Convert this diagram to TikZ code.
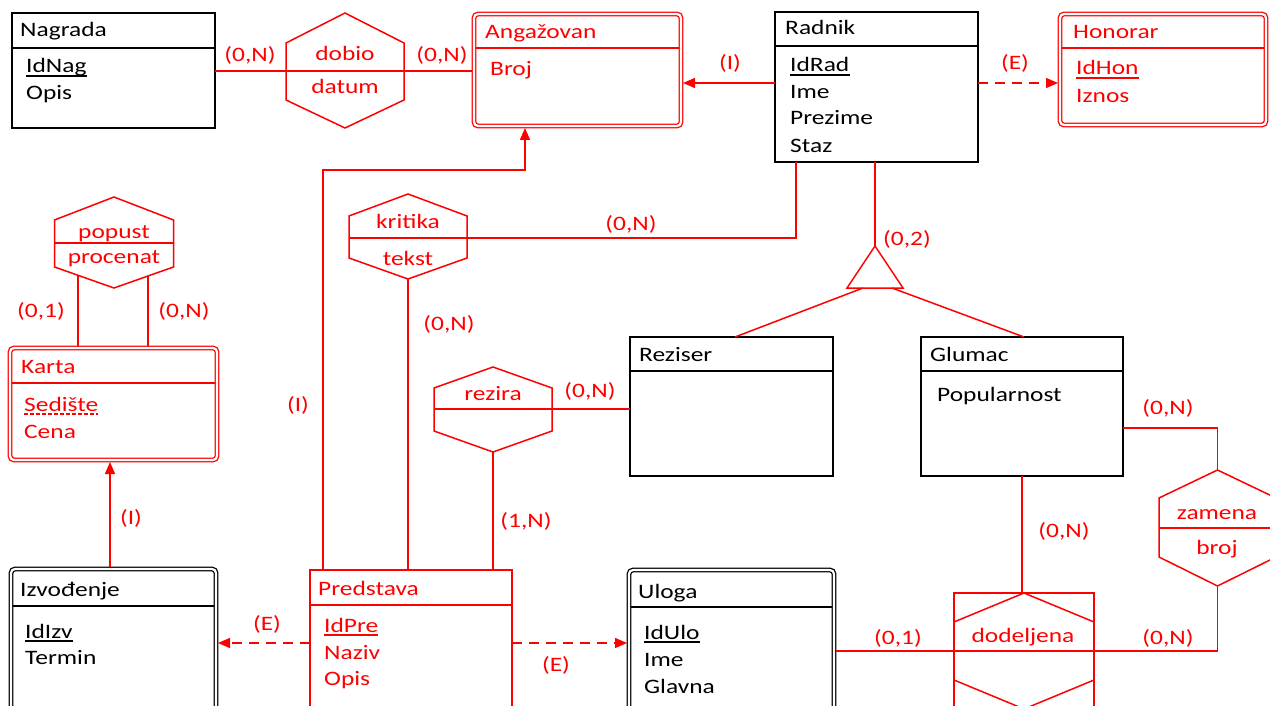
\documentclass[tikz,border=0pt]{standalone}
\usepackage{fontspec}
\setmainfont{Carlito}[FakeStretch=1.24]
\usetikzlibrary{arrows.meta,calc}
\newcommand{\hexag}[6]{\draw[rl] (#1,#2) -- (#1+#6,#3) -- (#1+#6,#4) -- (#1,#5) -- (#1-#6,#4) -- (#1-#6,#3) -- cycle;}
\begin{document}
\begin{tikzpicture}[x=1pt,y=-1pt,
  every node/.style={font=\fontsize{20.5}{24}\selectfont},
  blk/.style={draw=black,line width=1.8pt,inner sep=0,outer sep=0},
  rbox/.style={draw=red,line width=1.5pt,inner sep=0,outer sep=0},
  dblk/.style={draw=black,line width=1.3pt,double=white,double distance=2.2pt,rounded corners=4pt,inner sep=0,outer sep=0},
  drd/.style={draw=red,line width=1.3pt,double=white,double distance=2.2pt,rounded corners=4pt,inner sep=0,outer sep=0},
  rl/.style={draw=red,line width=1.5pt},
  hl/.style={draw=black,line width=1.8pt},
  arr/.style={-{Triangle[length=12pt,width=10pt]}},
  dsh/.style={dash pattern=on 10pt off 7pt},
  txt/.style={inner sep=0,anchor=base west},
  rtxt/.style={inner sep=0,anchor=base west,text=red},
  lbl/.style={inner sep=0,anchor=base,text=red}]
\path[use as bounding box,clip] (0,0) rectangle (1270,706);
\fill[white] (0,0) rectangle (1270,706);

% ---------- entities ----------
\node[blk,minimum width=203pt,minimum height=115pt] (nag) at (113.5,70.5) {};
\draw[hl] (12,48) -- (215,48);
\node[blk,minimum width=203pt,minimum height=150pt] (rad) at (876.5,87) {};
\draw[hl] (775,46) -- (978,46);
\node[blk,minimum width=203pt,minimum height=139pt] (rez) at (731.5,406.5) {};
\draw[hl] (630,371) -- (833,371);
\node[blk,minimum width=202pt,minimum height=139pt] (glu) at (1022,406.5) {};
\draw[hl] (921,371) -- (1123,371);
\node[rbox,minimum width=202pt,minimum height=160pt] (pre) at (411,650) {};
\draw[rl] (310,605) -- (512,605);

\node[drd,minimum width=207pt,minimum height=112pt] (ang) at (577.5,70) {};
\draw[rl] (476,48) -- (679,48);
\node[drd,minimum width=206pt,minimum height=111pt] (hon) at (1163,69.5) {};
\draw[rl] (1062,48) -- (1264,48);
\node[drd,minimum width=207pt,minimum height=112pt] (kar) at (113.5,404) {};
\draw[rl] (12,383) -- (215,383);
\node[dblk,minimum width=205pt,minimum height=169pt] (izv) at (113.5,653.5) {};
\draw[hl,line width=1.5pt] (13,606) -- (214,606);
\node[dblk,minimum width=205pt,minimum height=168pt] (ulo) at (731.5,654) {};
\draw[hl,line width=1.5pt] (631,607) -- (832,607);

% ---------- relationship hexagons ----------
\hexag{345}{13}{43}{100}{128}{59}
\hexag{114}{197}{220}{267}{288}{59.5}
\draw[rl] (54.5,243) -- (173.5,243);
\hexag{408}{194}{216}{258}{279}{59}
\draw[rl] (349,238) -- (467,238);
\hexag{493}{367}{388}{431}{452}{59}
\draw[rl] (434,409) -- (552,409);
\hexag{1217.5}{470}{498}{557}{586}{58.5}
\draw[rl] (1159,528) -- (1276,528);
\draw[rl] (954,593) rectangle (1094,740);
\hexag{1024}{593}{622}{680}{709}{70}
% ISA triangle
\draw[rl] (875,246) -- (903,288) -- (847,288) -- cycle;

% ---------- connectors ----------
\coordinate (dobL) at (285,71);
\draw[rl] (nag.east |- dobL) -- ($(ang.north west)+(-2,57)$);
\draw[rl,arr] ($(rad.north west)+(0,71)$) -- ($(ang.north east)+(2,69)$);
\draw[rl,arr,dsh] ($(rad.north east)+(0,71)$) -- ($(hon.north west)+(-2,69)$);
\coordinate (b1) at (323,170);
\coordinate (b2) at (525,170);
\draw[rl,arr] ($(pre.north west)+(13,0)$) -- (b1) -- (b2) -- ($(b2 |- ang.south)+(0,2)$);
\coordinate (kr) at (467,238);
\coordinate (kb) at (796,238);
\draw[rl] ($(rad.south west)+(21,0)$) -- (kb) -- (kr);
\coordinate (tri) at (875,246);
\draw[rl] ($(rad.south west)+(100,0)$) -- (tri);
\coordinate (trl) at (863,288);
\coordinate (trr) at (892,288);
\draw[rl] (trl) -- ($(rez.north west)+(105,0)$);
\draw[rl] (trr) -- ($(glu.north west)+(103,0)$);
\coordinate (kbot) at (408,279);
\draw[rl] (kbot) -- ($(pre.north west)+(98,0)$);
\coordinate (rzr) at (552,409);
\draw[rl] (rzr) -- ($(rez.north west)+(0,72)$);
\coordinate (rzb) at (493,452);
\draw[rl] (rzb) -- ($(pre.north west)+(183,0)$);
\coordinate (pp1) at (78,275.5);
\coordinate (pp2) at (148,276);
\draw[rl] (pp1) -- ($(kar.north west)+(68,-2)$);
\draw[rl] (pp2) -- ($(kar.north west)+(138,-2)$);
\draw[rl,arr] ($(izv.north west)+(99,-2)$) -- ($(kar.south west)+(100,2)$);
\draw[rl,arr,dsh] ($(pre.north west)+(0,73)$) -- ($(izv.north east)+(2,74)$);
\draw[rl,arr,dsh] ($(pre.north east)+(0,73)$) -- ($(ulo.north west)+(-2,73)$);
\coordinate (zb) at (1217.5,586);
\draw[rl] ($(ulo.north east)+(2,81)$) -- (zb |- 0,651) -- (zb);
\coordinate (dtop) at (1022,593);
\draw[rl] ($(glu.south west)+(101,0)$) -- (dtop);
\coordinate (zt) at (1217.5,470);
\draw[rl] ($(glu.north east)+(0,91)$) -- (zt |- 0,428) -- (zt);

% ---------- entity texts ----------
\node[txt] (tNag) at (20,37) {Nagrada};
\node[txt] (tIdNag) at (26,73) {IdNag};
\node[txt] (tOpis1) at (26,100) {Opis};
\node[txt] (tRad) at (785,35) {Radnik};
\node[txt] (tIdRad) at (790,72) {IdRad};
\node[txt] (tIme1) at (790,99) {Ime};
\node[txt] (tPrez) at (790,125) {Prezime};
\node[txt] (tStaz) at (790,153) {Staz};
\node[txt] (tRez) at (639,361) {Reziser};
\node[txt] (tGlu) at (930,361) {Glumac};
\node[txt] (tPop) at (937,401) {Popularnost};
\node[txt] (tIzv) at (20,596) {Izvođenje};
\node[txt] (tIdIzv) at (25,638) {IdIzv};
\node[txt] (tTerm) at (25,664) {Termin};
\node[txt] (tUlo) at (638,598) {Uloga};
\node[txt] (tIdUlo) at (644,639) {IdUlo};
\node[txt] (tIme2) at (644,666) {Ime};
\node[txt] (tGlav) at (644,693) {Glavna};

\node[rtxt] (tAng) at (485,39) {Angažovan};
\node[rtxt] (tBroj) at (490,76) {Broj};
\node[rtxt] (tHon) at (1073,39) {Honorar};
\node[rtxt] (tIdHon) at (1076,75) {IdHon};
\node[rtxt] (tIzn) at (1076,103) {Iznos};
\node[rtxt] (tKar) at (21,373) {Karta};
\node[rtxt] (tSed) at (24,411) {Sedište};
\node[rtxt] (tCena) at (24,438) {Cena};
\node[rtxt] (tPre) at (318,595) {Predstava};
\node[rtxt] (tIdPre) at (324,632) {IdPre};
\node[rtxt] (tNaz) at (324,659) {Naziv};
\node[rtxt] (tOpis2) at (324,685) {Opis};

% underlines
\foreach \n in {tIdNag,tIdRad,tIdIzv,tIdUlo}
  \draw[black,line width=1.2pt] ($(\n.base west)+(0,3)$) -- ($(\n.base east)+(0,3)$);
\foreach \n in {tIdHon,tIdPre}
  \draw[red,line width=1.2pt] ($(\n.base west)+(0,3)$) -- ($(\n.base east)+(0,3)$);
\draw[red,line width=1.2pt,dash pattern=on 4pt off 2pt] ($(tSed.base west)+(0,3)$) -- ($(tSed.base east)+(0,3)$);

% ---------- hexagon texts ----------
\node[lbl] (hDob) at (345,61) {dobio};
\node[lbl] (hDat) at (345,94) {datum};
\node[lbl] (hPop) at (114,238) {popust};
\node[lbl] (hProc) at (114,263) {procenat};
\node[lbl] (hKri) at (408,229) {kritika};
\node[lbl] (hTek) at (408,265) {tekst};
\node[lbl] (hRez) at (493,400) {rezira};
\node[lbl] (hZam) at (1217,519) {zamena};
\node[lbl] (hBroj) at (1217,554) {broj};
\node[lbl] (hDod) at (1023,642) {dodeljena};

% ---------- cardinality labels ----------
\node[lbl] (l1) at (250,62) {(0,N)};
\node[lbl] (l2) at (442,62) {(0,N)};
\node[lbl] (l3) at (730,70) {(I)};
\node[lbl] (l4) at (1015,70) {(E)};
\node[lbl] (l5) at (631,230) {(0,N)};
\node[lbl] (l6) at (907,245) {(0,2)};
\node[lbl] (l7) at (41,317) {(0,1)};
\node[lbl] (l8) at (184,317) {(0,N)};
\node[lbl] (l9) at (449,330) {(0,N)};
\node[lbl] (l10) at (298,411) {(I)};
\node[lbl] (l11) at (590,397) {(0,N)};
\node[lbl] (l12) at (1168,414) {(0,N)};
\node[lbl] (l13) at (131,524) {(I)};
\node[lbl] (l14) at (526,527) {(1,N)};
\node[lbl] (l15) at (1064,537) {(0,N)};
\node[lbl] (l16) at (267,630) {(E)};
\node[lbl] (l17) at (556,671) {(E)};
\node[lbl] (l18) at (898,644) {(0,1)};
\node[lbl] (l19) at (1168,644) {(0,N)};
\end{tikzpicture}
\end{document}
